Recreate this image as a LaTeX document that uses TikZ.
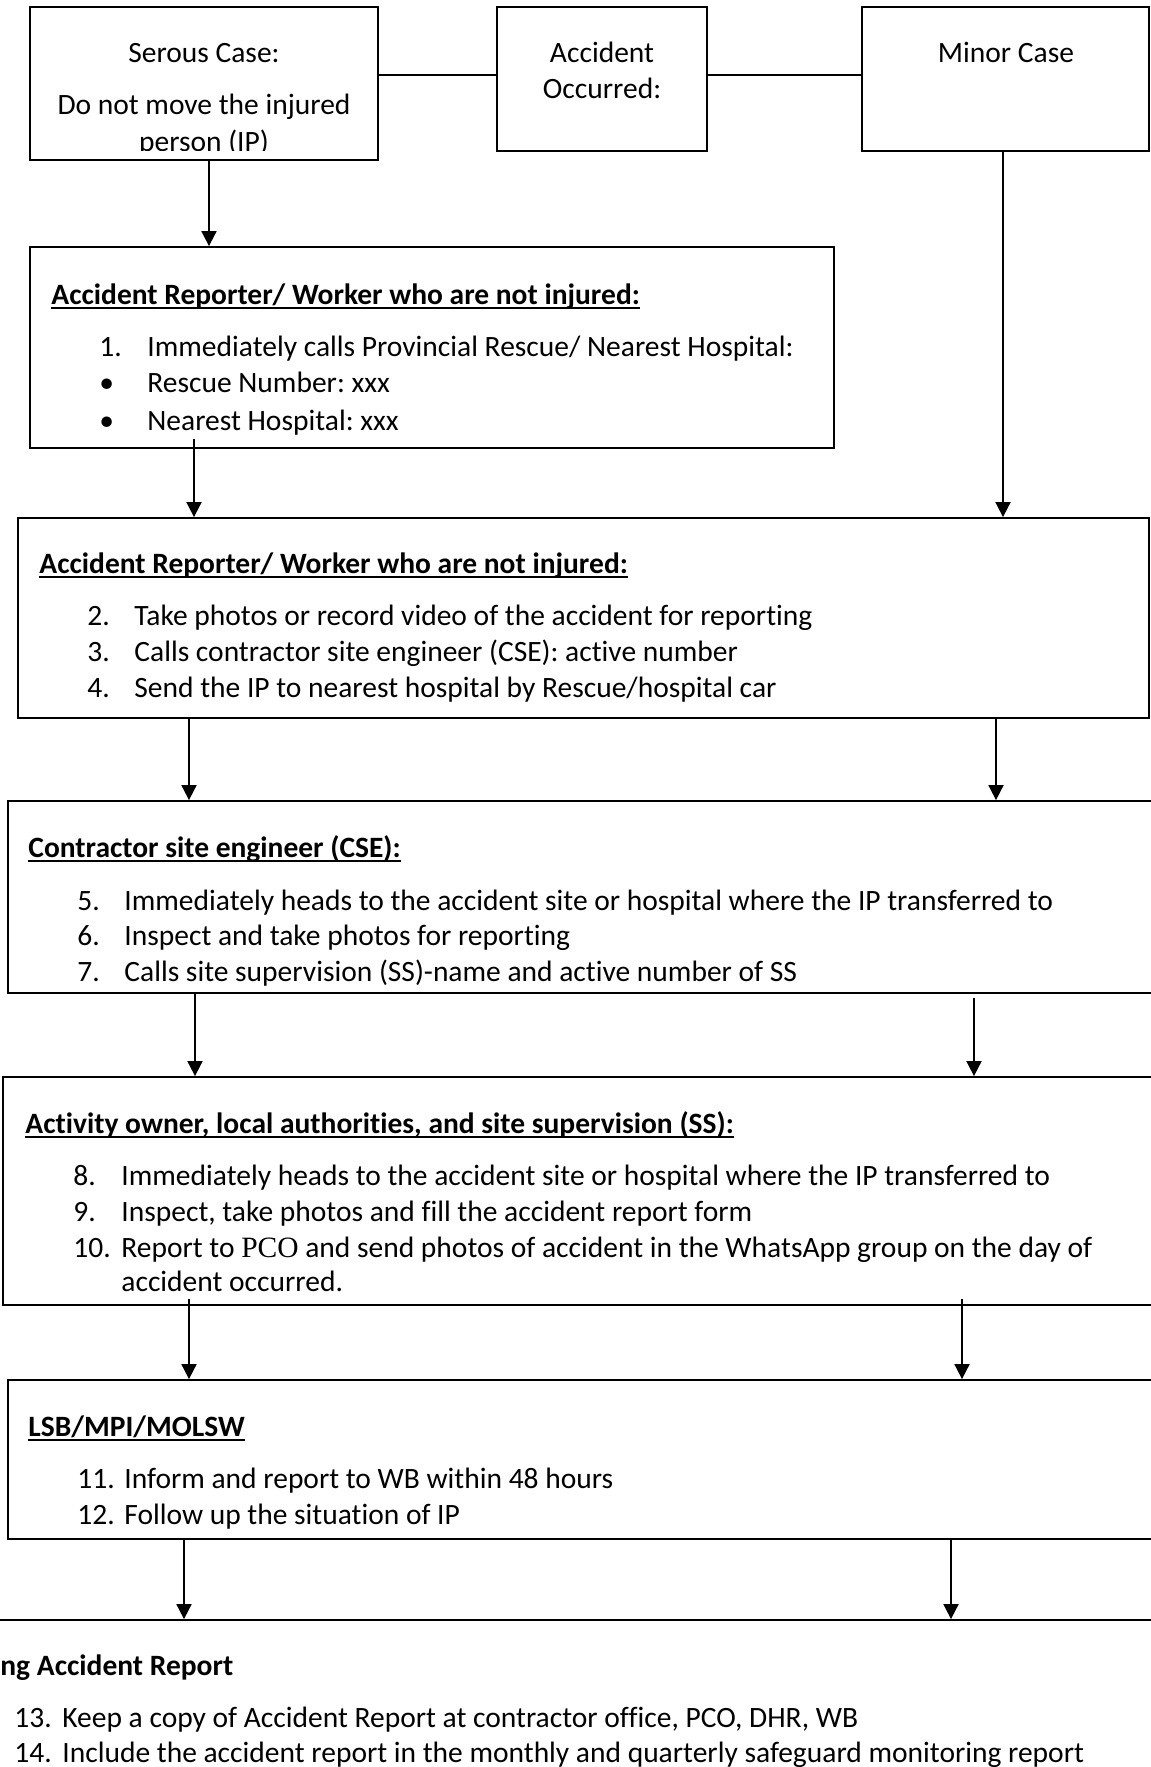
\documentclass[tikz,border=0pt]{standalone}
\usepackage{fontspec}
\setmainfont{Carlito}[Ligatures=NoCommon]
\newfontfamily\pcofont{Liberation Serif}
\usetikzlibrary{arrows.meta,calc,fit}
\frenchspacing

% bold heading with a fixed-offset underline (crosses descenders)
\newcommand\ulhead[1]{\setbox0\hbox{\bfseries #1}\rlap{\rule[-2.6pt]{\wd0}{0.9pt}}\box0}

\tikzset{
  box/.style={draw, line width=0.9pt, inner sep=0pt, rectangle},
  txt/.style={inner sep=0pt, anchor=base west, font=\fontsize{14.75pt}{18pt}\selectfont},
  ctxt/.style={inner sep=0pt, anchor=base, font=\fontsize{14.75pt}{18pt}\selectfont},
  link/.style={line width=0.9pt},
  flow/.style={line width=0.9pt, -{Triangle[length=7.5pt,width=7.5pt]}},
}

\begin{document}
\begin{tikzpicture}[x=0.5pt,y=-0.5pt]
\useasboundingbox (0,0) rectangle (1151,1767);
\clip (0,0) rectangle (1151,1767);
\fill[white] (0,0) rectangle (1151,1767);

% ---------- boxes ----------
\node[box, fit={(30,7) (378,160)}] (serous) {};
\node[box, fit={(497,7) (707,151)}] (accident) {};
\node[box, fit={(862,7) (1149,151)}] (minor) {};
\node[box, fit={(30,247) (834,448)}] (box2) {};
\node[box, fit={(18,518) (1149,718)}] (box3) {};
\node[box, fit={(8,801) (1160,993)}] (box4) {};
\node[box, fit={(3,1077) (1160,1305)}] (box5) {};
\node[box, fit={(8,1380) (1160,1539)}] (box6) {};
\node[box, fit={(-10,1620) (1160,1800)}] (box7) {};

% ---------- top row texts ----------
\node[ctxt] (s1) at (204,62) {Serous Case:};
\node[ctxt] (s2) at (204,114) {Do not move the injured};
\begin{scope}
  \clip (30,7) rectangle (378,150);
  \node[ctxt] (s3) at (204,151) {person (IP)};
\end{scope}
\node[ctxt] (a1) at (602,62) {Accident};
\node[ctxt] (a2) at (602,98) {Occurred:};
\node[ctxt] (m1) at (1006,62) {Minor Case};

% ---------- box 2 ----------
\node[txt] (h2) at (51,304) {\ulhead{Accident Reporter/ Worker who are not injured:}};
\node[txt] (n1) at (99,356) {1.};
\node[txt] (t1) at (147,356) {Immediately calls Provincial Rescue/ Nearest Hospital:};
\node[txt] (b1) at (99,392) {•};
\node[txt] (t1a) at (147,392) {Rescue Number: xxx};
\node[txt] (b2) at (99,430) {•};
\node[txt] (t1b) at (147,430) {Nearest Hospital: xxx};

% ---------- box 3 ----------
\node[txt] (h3) at (39,573) {\ulhead{Accident Reporter/ Worker who are not injured:}};
\node[txt] (n2) at (87,625) {2.};
\node[txt] (t2) at (134,625) {Take photos or record video of the accident for reporting};
\node[txt] (n3) at (87,661) {3.};
\node[txt] (t3) at (134,661) {Calls contractor site engineer (CSE): active number};
\node[txt] (n4) at (87,697) {4.};
\node[txt] (t4) at (134,697) {Send the IP to nearest hospital by Rescue/hospital car};

% ---------- box 4 ----------
\node[txt] (h4) at (28,857) {\ulhead{Contractor site engineer (CSE):}};
\node[txt] (n5) at (77,910) {5.};
\node[txt] (t5) at (124,910) {Immediately heads to the accident site or hospital where the IP transferred to};
\node[txt] (n6) at (77,945) {6.};
\node[txt] (t6) at (124,945) {Inspect and take photos for reporting};
\node[txt] (n7) at (77,981) {7.};
\node[txt] (t7) at (124,981) {Calls site supervision (SS)-name and active number of SS};

% ---------- box 5 ----------
\node[txt] (h5) at (25,1133) {\ulhead{Activity owner, local authorities, and site supervision (SS):}};
\node[txt] (n8) at (73,1185) {8.};
\node[txt] (t8) at (121,1185) {Immediately heads to the accident site or hospital where the IP transferred to};
\node[txt] (n9) at (73,1221) {9.};
\node[txt] (t9) at (121,1221) {Inspect, take photos and fill the accident report form};
\node[txt] (n10) at (73,1257) {10.};
\node[txt] (t10) at (121,1257) {Report to {\pcofont PCO} and send photos of accident in the WhatsApp group on the day of};
\node[txt] (t10b) at (121,1291) {accident occurred.};

% ---------- box 6 ----------
\node[txt] (h6) at (28,1436) {\ulhead{LSB/MPI/MOLSW}};
\node[txt] (n11) at (77,1488) {11.};
\node[txt] (t11) at (124,1488) {Inform and report to WB within 48 hours};
\node[txt] (n12) at (77,1524) {12.};
\node[txt] (t12) at (124,1524) {Follow up the situation of IP};

% ---------- box 7 ----------
\node[txt] (h7) at (0,1675) {\bfseries ng Accident Report};
\node[txt] (n13) at (14,1727) {13.};
\node[txt] (t13) at (62,1727) {Keep a copy of Accident Report at contractor office, PCO, DHR, WB};
\node[txt] (n14) at (14,1762) {14.};
\node[txt] (t14) at (62,1762) {Include the accident report in the monthly and quarterly safeguard monitoring report};

% ---------- connector columns ----------
\coordinate (rowy) at (0,75);
\coordinate (ca) at (209,0);
\coordinate (cm) at (1003,0);
\coordinate (c2) at (194,0);
\coordinate (c3l) at (189,0);
\coordinate (c3r) at (996,0);
\coordinate (c4l) at (195,0);
\coordinate (c4r) at (974,0);
\coordinate (c5l) at (189,0);
\coordinate (c5r) at (962,0);
\coordinate (c6l) at (184,0);
\coordinate (c6r) at (951,0);

% ---------- connectors ----------
\draw[link] (serous.east |- rowy) -- (accident.west |- rowy);
\draw[link] (accident.east |- rowy) -- (minor.west |- rowy);
\draw[flow] (serous.south -| ca) -- (box2.north -| ca);
\draw[flow] (minor.south -| cm) -- (box3.north -| cm);
\draw[flow] ($(box2.south -| c2)+(0,-10)$) -- (box3.north -| c2);
\draw[flow] (box3.south -| c3l) -- (box4.north -| c3l);
\draw[flow] (box3.south -| c3r) -- (box4.north -| c3r);
\draw[flow] (box4.south -| c4l) -- (box5.north -| c4l);
\draw[flow] ($(box4.south -| c4r)+(0,4)$) -- (box5.north -| c4r);
\draw[flow] ($(box5.south -| c5l)+(0,-7)$) -- (box6.north -| c5l);
\draw[flow] ($(box5.south -| c5r)+(0,-7)$) -- (box6.north -| c5r);
\draw[flow] (box6.south -| c6l) -- (box7.north -| c6l);
\draw[flow] (box6.south -| c6r) -- (box7.north -| c6r);
\end{tikzpicture}
\end{document}
